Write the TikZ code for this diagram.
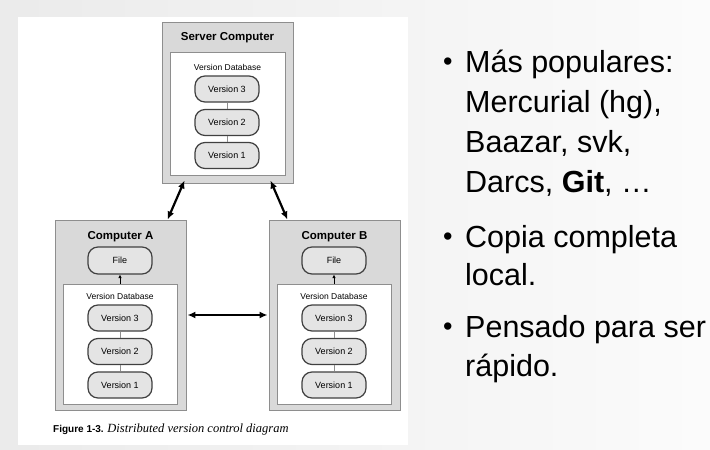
\documentclass[tikz,border=0pt]{standalone}
\usepackage{fontspec}
\setmainfont{Liberation Sans}
\newfontfamily\capserif{Liberation Serif}
\usetikzlibrary{positioning,calc,arrows.meta}

\definecolor{boxgray}{HTML}{D9D9D9}
\definecolor{pillgray}{HTML}{E4E4E4}
\definecolor{edgegray}{HTML}{8E8E8E}

\tikzset{
  machine/.style={draw=edgegray, line width=0.9pt, fill=boxgray, inner sep=0pt},
  database/.style={draw=edgegray, line width=0.8pt, fill=white, inner sep=0pt},
  version/.style={draw=black!75, line width=1.2pt, fill=pillgray, rounded corners=10pt,
    minimum width=64pt, minimum height=26pt, inner sep=0pt, font=\fontsize{9}{10}\selectfont},
  machtitle/.style={font=\fontsize{11.5}{13}\selectfont\bfseries},
  dblabel/.style={font=\fontsize{8.5}{10}\selectfont},
  sync/.style={{Latex[length=8pt,width=7pt]}-{Latex[length=8pt,width=7pt]}, line width=2.2pt},
  slideline/.style={anchor=base west, inner sep=0pt, font=\fontsize{30.5}{38}\selectfont},
  slidedot/.style={anchor=base west, inner sep=0pt, font=\fontsize{27}{27}\selectfont},
}

\begin{document}
\begin{tikzpicture}[x=1pt, y=-1pt]
    \useasboundingbox (0,0) rectangle (710,450);
    % slide background and figure panel
    \fill[left color=gray!16, right color=gray!3] (0,0) rectangle (710,450);
    \fill[white] (18,17) rectangle (408,445);

    % Server
    \node[machine, minimum width=131pt, minimum height=161pt] (srv) at (227.5,102.5) {};
    \node[machtitle] (srvtitle) at (227.5,38) {Server Computer};
    \node[database, minimum width=115pt, minimum height=123pt] (srvdb) at (227.5,113.5) {};
    \node[dblabel] (srvdblabel) at (227.5,67) {Version Database};
    \node[version] (srvv3) at (227,89) {Version 3};
    \node[version] (srvv2) at (227,122.5) {Version 2};
    \node[version] (srvv1) at (227,155.5) {Version 1};
    \draw[edgegray, line width=0.8pt] (srvv3) -- (srvv2) (srvv2) -- (srvv1);

    % Computer A and Computer B
    \foreach \id/\letter/\shift in {compA/A/0, compB/B/214} {
    \begin{scope}[xshift=\shift pt]
        \node[machine, minimum width=131pt, minimum height=190pt] (\id) at (120.5,315) {};
        \node[machtitle] (\id title) at (120.5,237) {Computer \letter};
        \node[version, minimum height=27pt] (\id file) at (120,260.5) {File};
        \node[database, minimum width=114pt, minimum height=120pt] (\id db) at (120,344) {};
        \node[dblabel] (\id dblabel) at (120,296) {Version Database};
        \node[version] (\id v3) at (120,318) {Version 3};
        \node[version] (\id v2) at (120,351.5) {Version 2};
        \node[version] (\id v1) at (120,385) {Version 1};
        \draw[edgegray, line width=0.8pt] (\id v3) -- (\id v2) (\id v2) -- (\id v1);
        \draw[-{Latex[length=3.5pt,width=3.5pt]}, line width=0.8pt] (\id db.north) -- (\id file.south);
    \end{scope}
    }

    % synchronisation arrows
    \draw[sync] ([xshift=23pt,yshift=3pt]srv.south west) -- ([xshift=113pt]compA.north west);
    \draw[sync] ([xshift=-23pt,yshift=3pt]srv.south east) -- ([xshift=-113pt]compB.north east);
    \draw[sync] ([xshift=1pt]compA.east) -- ([xshift=-1pt]compB.west);

    % caption
    \node[anchor=base west, inner sep=0pt] (caption) at (53,432)
        {{\fontsize{10}{12}\selectfont\bfseries Figure 1-3.} {\capserif\itshape\fontsize{12.5}{14}\selectfont Distributed version control diagram}};

    % bullets
    \node[slidedot] (dot1) at (443,70) {•};
    \node[slideline] (l1) at (465,72) {Más populares:};
    \node[slideline] (l2) at (465,112) {Mercurial (hg),};
    \node[slideline] (l3) at (465,152) {Baazar, svk,};
    \node[slideline] (l4) at (465,192) {Darcs, \textbf{Git}, …};
    \node[slidedot] (dot2) at (443,245) {•};
    \node[slideline] (l5) at (465,247) {Copia completa};
    \node[slideline] (l6) at (465,285) {local.};
    \node[slidedot] (dot3) at (443,335) {•};
    \node[slideline] (l7) at (465,337) {Pensado para ser};
    \node[slideline] (l8) at (465,376) {rápido.};
\end{tikzpicture}
\end{document}
